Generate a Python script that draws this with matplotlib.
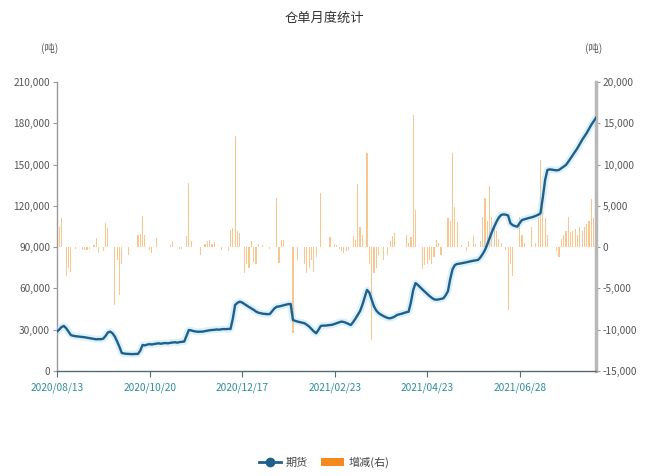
import matplotlib
matplotlib.use("Agg")
import matplotlib.pyplot as plt
from matplotlib.lines import Line2D
from matplotlib.patches import Patch
import numpy as np

plt.rcParams['font.family'] = ['Noto Sans CJK SC', 'DejaVu Sans']

title = "仓单月度统计"
tick_labels = ["2020/08/13", "2020/10/20", "2020/12/17", "2021/02/23", "2021/04/23", "2021/06/28"]
tick_step = 40

futures = [
    28600, 30200, 32000, 32700, 31000, 28500, 26100, 25600, 25300, 25100,
    24900, 24700, 24500, 24200, 23900, 23600, 23300, 23000, 23200, 23100,
    23500, 25500, 28000, 28600, 27400, 25000, 21400, 17500, 13100, 12700,
    12500, 12400, 12300, 12300, 12400, 12400, 14800, 18900, 18600, 19200,
    19500, 19300, 19600, 19900, 20100, 19800, 20200, 20300, 20100, 20500,
    20700, 20900, 20600, 21000, 21200, 21400, 25500, 29800, 29500, 29000,
    28700, 28500, 28600, 28600, 29000, 29300, 29600, 29800, 29900, 30200,
    30000, 30300, 30500, 30400, 30600, 30500, 38000, 48000, 49500, 50400,
    49800, 48700, 47600, 46500, 45500, 44500, 43200, 42400, 42000, 41600,
    41500, 41300, 41400, 43500, 45500, 46700, 46900, 47300, 47800, 48200,
    48600, 48700, 37100, 36400, 35900, 35500, 35100, 34700, 33600, 32300,
    30500, 28800, 27400, 29800, 32700, 33000, 33000, 33200, 33400, 33600,
    34200, 34800, 35400, 35900, 35600, 35000, 34200, 33400, 35500, 38000,
    40700, 43500, 48000, 53500, 58900, 57000, 52000, 47000, 44000, 42100,
    41000, 40000, 39200, 38500, 38300, 38800, 39600, 40700, 41200, 41600,
    42200, 42700, 43100, 50000, 58900, 63900, 62500, 60800, 59200, 57600,
    56000, 54500, 53200, 52100, 51800, 52000, 52400, 52800, 55000, 58000,
    67000, 74000, 77000, 77800, 78000, 78300, 78700, 79000, 79400, 79800,
    80100, 80400, 80700, 82500, 85000, 87900, 92000, 96500, 101000, 104900,
    108500, 111500, 113400, 113800, 113600, 113000, 107400, 106000, 105300, 104900,
    107500, 109700, 110200, 110700, 111200, 111600, 112100, 112800, 113500, 114600,
    126000, 138800, 146100, 146500, 146300, 146000, 145800, 146100, 147300, 148500,
    149700, 152000, 154500, 157000, 159500, 162000, 165000, 167900, 170500, 173000,
    176000, 179000, 181500, 184000,
]

change = [
    0, 2500, 3500, 0, -3500, -2500, -3000, 0, -200, 0,
    0, -300, -400, -300, -200, 0, 300, 1100, -700, 0,
    -500, 2900, 2300, 0, 0, -7000, -1500, -5800, -2000, 0,
    0, -900, 0, 0, 0, 1500, 1600, 3800, 1500, 0,
    -400, -700, 0, 1100, 0, 0, 0, 0, 0, 200,
    800, 0, 0, -200, -200, 0, 1300, 7800, 700, 0,
    0, 0, -1000, 0, 400, 700, 900, 400, 600, 0,
    0, -300, 0, 0, -500, 2100, 2300, 13400, 2000, 1700,
    0, -3100, -2000, -2500, 800, -1800, -2000, 400, 0, 200,
    0, 0, -200, 0, 0, 5900, -1900, 900, 900, 0,
    0, 0, -10400, 0, -1600, 0, 0, -2000, -3100, -2500,
    -1500, -3000, -1200, 0, 6500, 0, 0, 0, 1200, 0,
    400, 200, -200, -500, -700, -500, -300, 0, 1300, 900,
    7700, 2500, 1500, 0, 11400, -2000, -11200, -3100, -2500, -1000,
    0, -1500, 0, -1000, 800, 1300, 1700, 0, 0, 0,
    0, 1500, 500, 1200, 16000, 4500, 0, 0, -2700, -2200,
    -2000, -1500, -2000, -1200, 900, 500, -1000, 0, 0, 3500,
    3200, 11400, 4900, 3000, 0, 300, 0, -500, 700, 0,
    1300, 400, 0, 800, 3700, 5900, 3200, 7400, 3700, 2500,
    2000, 1000, 500, 0, -300, -7600, -2000, -3500, 0, 0,
    3700, 1500, 500, 0, 0, 2500, 0, 500, 3700, 10600,
    5300, 3500, 1500, 0, 0, 0, -500, -1200, 1000, 1500,
    2000, 3700, 1800, 2000, 2200, 1500, 2500, 2000, 2500, 2800,
    3200, 5800, 3500, 4000,
]

n = len(futures)
x = np.arange(n)

fig = plt.figure(figsize=(6.48, 4.76), dpi=100)
ax = fig.add_axes([57/648, 1-371/476, (596-57)/648, (371-82)/476])
ax2 = ax.twinx()

bar_color = '#f7b46a'
line_color = '#1f5f8c'

ax2.bar(x, change, width=0.5, color=bar_color, alpha=0.75, linewidth=0, zorder=1)
ax2.set_ylim(-15000, 20000)
ax2.set_yticks(np.arange(-15000, 20001, 5000))

ax.set_zorder(ax2.get_zorder() + 1)
ax.patch.set_visible(False)
ax.plot(x, futures, color='#a8dcf0', linewidth=5, alpha=0.4, solid_capstyle='round', zorder=2)
ax.plot(x, futures, color=line_color, linewidth=1.7, zorder=3)
ax.set_ylim(0, 210000)
ax.set_yticks(np.arange(0, 210001, 30000))
ax.set_xlim(0, n - 1)
ax.set_xticks(np.arange(0, len(tick_labels) * tick_step, tick_step))
ax.set_xticklabels(tick_labels)

fmt = matplotlib.ticker.FuncFormatter(lambda v, p: f"{int(v):,}")
ax.yaxis.set_major_formatter(fmt)
ax2.yaxis.set_major_formatter(fmt)

for a in (ax, ax2):
    a.spines['top'].set_visible(False)
    a.tick_params(axis='y', labelsize=7.3, colors='#999999', labelcolor='#555555', length=3, width=0.8, pad=2)
for sp in ('left', 'right'):
    ax.spines[sp].set_visible(False)
ax2.spines['left'].set_color('#999999')
ax2.spines['left'].set_linewidth(1.0)
ax2.spines['right'].set_color('#b8b8b8')
ax2.spines['right'].set_linewidth(2.5)
ax2.spines['bottom'].set_visible(False)
ax.spines['bottom'].set_color('#556b77')
ax.spines['bottom'].set_linewidth(1.0)
ax.tick_params(axis='x', labelsize=7.3, labelcolor='#2f8c9c', color='#556b77', length=4, pad=4)

fig.text(0.5, 1-18/476, title, ha='center', va='center', fontsize=9.5, color='#333333')
fig.text(50/648, 1-48/476, "(吨)", ha='center', va='center', fontsize=7.5, color='#555555')
fig.text(594/648, 1-48/476, "(吨)", ha='center', va='center', fontsize=7.5, color='#555555')

handles = [
    Line2D([0], [0], color=line_color, linewidth=2, marker='o', markersize=6),
    Patch(facecolor='#f5891f', edgecolor='none'),
]
fig.legend(handles, ["期货", "增减(右)"], loc='center', bbox_to_anchor=(0.5, 1-462/476),
           ncol=2, frameon=False, fontsize=8, handlelength=2.0, columnspacing=1.2,
           handletextpad=0.4, labelcolor='#444444')

fig.savefig("out.png", dpi=100)
